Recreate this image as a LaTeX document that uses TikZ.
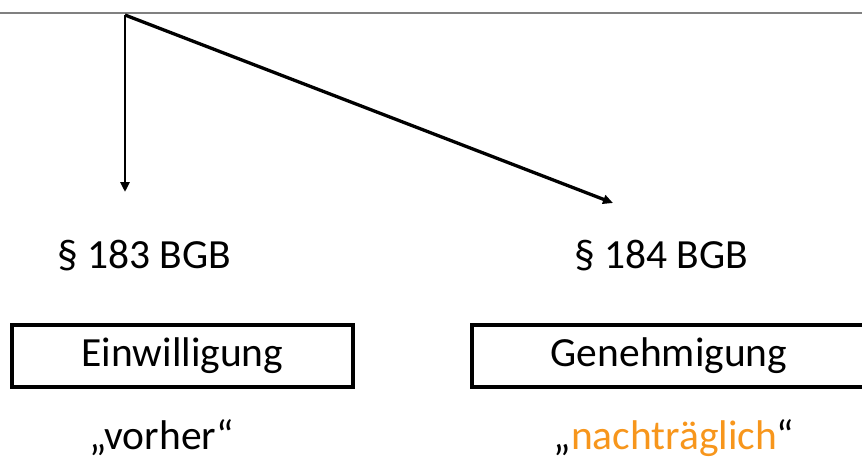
\documentclass[tikz,border=0pt]{standalone}
\usepackage{fontspec}
\setmainfont{Carlito}
\usetikzlibrary{arrows.meta}
\definecolor{accent}{RGB}{247,150,28}
\definecolor{rulegray}{RGB}{128,128,128}
\tikzset{
  label/.style={font=\fontsize{41.5}{48}\selectfont, inner sep=0pt, anchor=center},
  termbox/.style={draw, line width=3.5pt, minimum height=62pt, inner sep=0pt},
  link/.style={line width=2.5pt, -{Triangle[length=10pt,width=9pt]}},
}
\begin{document}
\begin{tikzpicture}[x=1pt,y=-1pt]
  \clip (0,0) rectangle (862,463);
  % header rule
  \draw[rulegray, line width=2pt] (0,13) -- (862,13);
  % branching point and arrow targets
  \coordinate (src) at (125,15);
  \coordinate (left) at (125,192);
  \coordinate (right) at (613,203);
  \draw[link] (src) -- (left);
  \draw[link, line width=3.3pt] (src) -- (right);
  % paragraph references
  \node[label] (p183) at (144,256) {§ 183 BGB};
  \node[label] (p184) at (661,256) {§ 184 BGB};
  % terms
  \node[termbox, minimum width=341pt] (ein) at (182.5,356) {};
  \node[label] at (ein.center) {Einwilligung};
  \node[termbox, minimum width=420pt] (gen) at (682,356) {};
  \node[label] at (669,356) {Genehmigung};
  % timing
  \node[label] (vor) at (162,438) {„vorher“};
  \node[label] (nach) at (674,438) {„\textcolor{accent}{nachträglich}“};
\end{tikzpicture}
\end{document}
